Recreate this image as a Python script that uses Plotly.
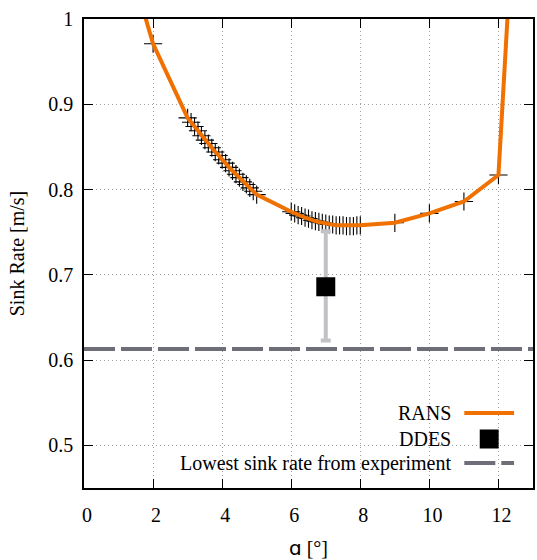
import plotly.graph_objects as go

# RANS polar: angle of attack [deg] and sink rate [m/s]
rans_alpha = [1.5, 2.0,
              3.0, 3.1, 3.2, 3.3, 3.4, 3.5, 3.6, 3.7, 3.8, 3.9, 4.0,
              4.1, 4.2, 4.3, 4.4, 4.5, 4.6, 4.7, 4.8, 4.9, 5.0,
              6.0, 6.1, 6.2, 6.3, 6.4, 6.5, 6.6, 6.7, 6.8, 6.9, 7.0,
              7.1, 7.2, 7.3, 7.4, 7.5, 7.6, 7.7, 7.8, 7.9, 8.0,
              9.0, 10.0, 11.0, 12.0, 12.5]
rans_sink = [1.040, 0.971,
             0.884, 0.879, 0.874, 0.869, 0.863, 0.858, 0.854, 0.849, 0.844, 0.840, 0.835,
             0.831, 0.826, 0.822, 0.818, 0.814, 0.809, 0.806, 0.802, 0.798, 0.794,
             0.774, 0.772, 0.770, 0.769, 0.767, 0.766, 0.764, 0.763, 0.762, 0.761, 0.760,
             0.759, 0.759, 0.758, 0.758, 0.758, 0.757, 0.757, 0.757, 0.758, 0.758,
             0.761, 0.772, 0.786, 0.817, 1.170]

# DDES result with its uncertainty band
ddes_alpha = [7.0]
ddes_sink = [0.686]
ddes_err_plus = [0.065]
ddes_err_minus = [0.063]

# Lowest sink rate measured in the experiment
exp_min_sink = 0.613

x_ticks = [0, 2, 4, 6, 8, 10, 12]
y_ticks = [0.5, 0.6, 0.7, 0.8, 0.9, 1.0]
y_tick_text = ["0.5", "0.6", "0.7", "0.8", "0.9", "1"]

legend_labels = ["RANS", "DDES", "Lowest sink rate from experiment"]

ORANGE = "#f07000"
GREY_DASH = "#6e6e78"
GREY_ERR = "#c2c2c6"
FONT = "Liberation Serif"
FS = 20

W, H = 537, 560
ML, MR, MT, MB = 84, 2, 19, 72
PW, PH = W - ML - MR, H - MT - MB


def px(xp):
    return (xp - ML) / PW


def py(yp):
    return (H - MB - yp) / PH


fig = go.Figure()

fig.add_trace(go.Scatter(
    x=rans_alpha, y=rans_sink, mode="markers",
    marker=dict(symbol="cross-thin", size=13, color="black",
                line=dict(color="black", width=1.1)),
    showlegend=False, hoverinfo="skip"))

fig.add_trace(go.Scatter(
    x=rans_alpha, y=rans_sink, mode="lines",
    line=dict(color=ORANGE, width=4), name=legend_labels[0],
    showlegend=False))

fig.add_trace(go.Scatter(
    x=[0, 13], y=[exp_min_sink, exp_min_sink], mode="lines",
    line=dict(color=GREY_DASH, width=4, dash="31px,6px"),
    name=legend_labels[2], showlegend=False))

fig.add_trace(go.Scatter(
    x=ddes_alpha, y=ddes_sink, mode="markers",
    marker=dict(symbol="square", size=19, color="black"),
    error_y=dict(type="data", symmetric=False, array=ddes_err_plus,
                 arrayminus=ddes_err_minus, color=GREY_ERR,
                 thickness=4, width=5),
    name=legend_labels[1], showlegend=False))

# Key box: white panel, right-aligned labels with samples on the right
shapes = [
    dict(type="rect", xref="paper", yref="paper", layer="between",
         x0=px(134), x1=px(534), y0=py(474), y1=py(403),
         fillcolor="white", line=dict(width=0)),
    dict(type="line", xref="paper", yref="paper",
         x0=px(466), x1=px(516), y0=py(413), y1=py(413),
         line=dict(color=ORANGE, width=4)),
    dict(type="rect", xref="paper", yref="paper",
         x0=px(481.5), x1=px(500.5), y0=py(448.5), y1=py(429.5),
         fillcolor="black", line=dict(width=0)),
    dict(type="line", xref="paper", yref="paper",
         x0=px(466), x1=px(516), y0=py(463), y1=py(463),
         line=dict(color=GREY_DASH, width=4, dash="31px,6px")),
]

annotations = []
for label, yp in zip(legend_labels, [413, 439, 463]):
    annotations.append(dict(
        text=label, xref="paper", yref="paper", x=px(455), y=py(yp),
        xanchor="right", yanchor="middle", showarrow=False,
        font=dict(family=FONT, size=FS, color="black")))

axis_common = dict(
    showline=True, linecolor="black", linewidth=1.5, mirror="allticks",
    ticks="inside", ticklen=9, tickwidth=1, tickcolor="black",
    showgrid=True, gridcolor="#a0a0a0", gridwidth=1, griddash="1px,3px",
    zeroline=False, tickfont=dict(family=FONT, size=FS, color="black"),
)

fig.update_layout(
    width=W, height=H,
    margin=dict(l=ML, r=MR, t=MT, b=MB),
    paper_bgcolor="white", plot_bgcolor="white",
    showlegend=False,
    shapes=shapes, annotations=annotations,
    xaxis=dict(range=[0, 13], tickvals=x_ticks, ticklabelstandoff=8,
               ticklabelshift=3,
               title=dict(text='<span style="font-family:DejaVu Sans">ɑ</span> [°]',
                          font=dict(family=FONT, size=FS, color="black"),
                          standoff=18),
               **axis_common),
    yaxis=dict(range=[0.45, 1.0], tickvals=y_ticks, ticktext=y_tick_text,
               ticklabelstandoff=5,
               title=dict(text="Sink Rate [m/s]",
                          font=dict(family=FONT, size=FS, color="black"),
                          standoff=18),
               **axis_common),
)

fig.write_html("out.html")
